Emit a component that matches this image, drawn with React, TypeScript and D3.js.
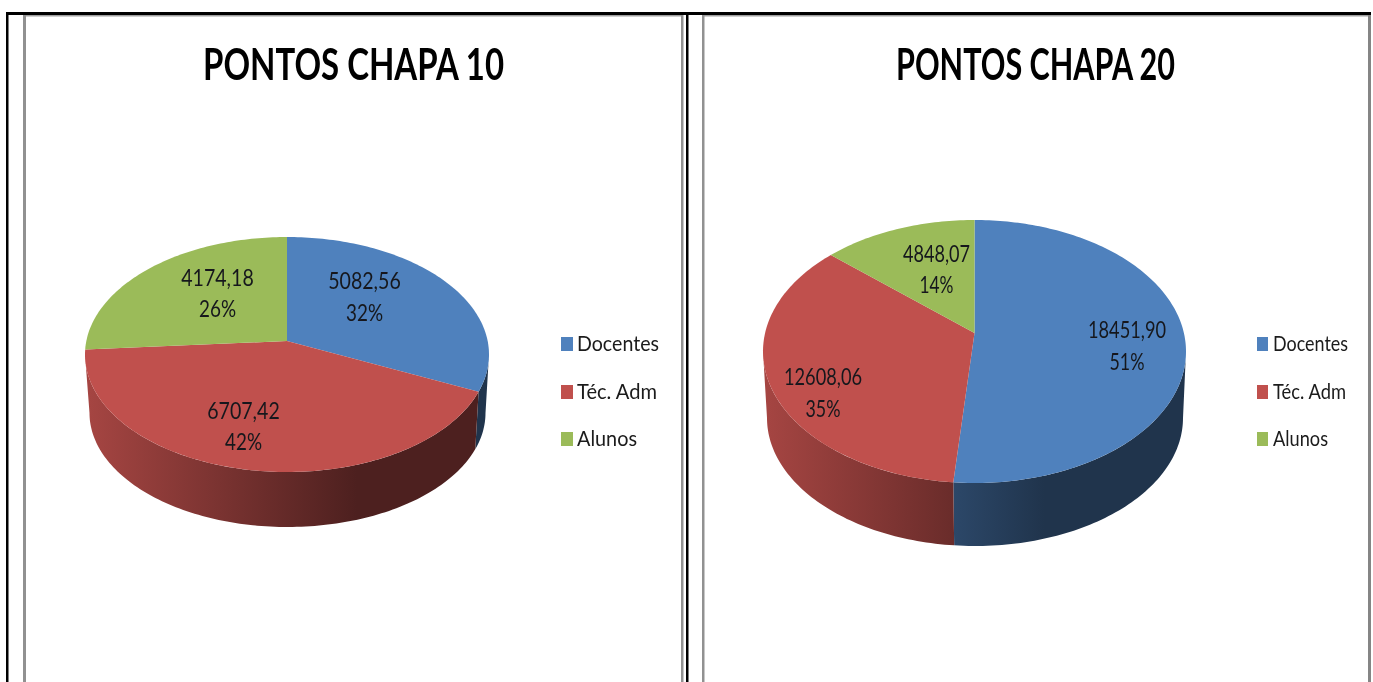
import React from "react";
import * as d3 from "d3";

const categories = ["Docentes", "Téc. Adm", "Alunos"];
const colors = ["#4F81BD", "#C0504D", "#9BBB59"];
const titleA = "PONTOS CHAPA 10";
const titleB = "PONTOS CHAPA 20";
const valuesA = [5082.56, 6707.42, 4174.18];
const valuesB = [18451.9, 12608.06, 4848.07];
const valueLabelsA = ["5082,56", "6707,42", "4174,18"];
const valueLabelsB = ["18451,90", "12608,06", "4848,07"];
const percentLabelsA = ["32%", "42%", "26%"];
const percentLabelsB = ["51%", "35%", "14%"];

const FONT = "Lato, 'Open Sans', sans-serif";

type Layout = {
  id: string; cx: number; hubY: number; top: number; bottom: number; rx: number;
  baseBottom: number; baseRx: number; baseRy: number; darkEnd: number;
  titleX: number; titleW: number;
  labels: { x: number; y1: number; y2: number; w1: number; w2: number }[];
  swatchX: number; swatchW: number; textX: number; textW: number[];
};

const layoutA: Layout = {
  id: "a", cx: 287, hubY: 341, top: 237, bottom: 472, rx: 202,
  baseBottom: 527, baseRx: 198, baseRy: 114, darkEnd: 70,
  titleX: 353.5, titleW: 301,
  labels: [
    { x: 364.5, y1: 289, y2: 321, w1: 72.5, w2: 37 },
    { x: 243.5, y1: 419, y2: 450, w1: 72.5, w2: 37 },
    { x: 217.5, y1: 286, y2: 317, w1: 72.5, w2: 37 },
  ],
  swatchX: 561, swatchW: 12, textX: 577, textW: [82, 80, 60],
};
const layoutB: Layout = {
  id: "b", cx: 974.5, hubY: 333, top: 220, bottom: 483, rx: 211.5,
  baseBottom: 546, baseRx: 208, baseRy: 128, darkEnd: 70,
  titleX: 1035.5, titleW: 279,
  labels: [
    { x: 1127, y1: 338, y2: 370, w1: 78, w2: 35 },
    { x: 823, y1: 385, y2: 417, w1: 78, w2: 35 },
    { x: 936.5, y1: 262, y2: 293, w1: 67, w2: 34 },
  ],
  swatchX: 1257, swatchW: 11, textX: 1273, textW: [75, 73, 55],
};

const legendRows = [{ y: 351 }, { y: 399 }, { y: 446 }];

// Perspective projection of a circle: v points toward the viewer.
function projector(cx: number, y0: number, k: number, rx: number, ry: number) {
  const s = Math.sqrt(1 - k * k);
  const B = rx * s;
  const A = ry * (1 - k * k);
  return (theta: number): [number, number] => {
    const u = Math.sin(theta);
    const v = -Math.cos(theta);
    const w = 1 - k * v;
    return [cx + (B * u) / w, y0 + (A * v) / w];
  };
}

function samples(a: number, b: number): number[] {
  const n = Math.max(2, Math.ceil((b - a) / 0.02));
  return d3.range(n + 1).map((i) => a + ((b - a) * i) / n);
}

const shade = (c: string, f: number) => {
  const r = d3.rgb(c);
  return d3.rgb(r.r * f, r.g * f, r.b * f).formatHex();
};

const line = d3.line<[number, number]>().x((d) => d[0]).y((d) => d[1]);

function Pie({ l, values, valueLabels, percentLabels, title }: {
  l: Layout; values: number[]; valueLabels: string[]; percentLabels: string[]; title: string;
}) {
  const up = l.hubY - l.top;
  const down = l.bottom - l.hubY;
  const k = (down - up) / (down + up);
  const ry = (l.bottom - l.top) / 2;
  const rim = projector(l.cx, l.hubY, k, l.rx, ry);
  const baseY0 = l.baseBottom - (l.baseRy * (1 - k * k)) / (1 - k);
  const base = projector(l.cx + 0.5, baseY0, k, l.baseRx, l.baseRy);
  const arcs = d3.pie<number>().sort(null)(values);
  // The rim's widest points sit where v = k, which is where the side wall starts.
  const wallMin = Math.PI / 2 + Math.asin(k);
  const wallMax = (3 * Math.PI) / 2 - Math.asin(k);

  return (
    <g>
      <defs>
        {colors.map((c, i) => (
          <linearGradient key={i} id={`wall-${l.id}-${i}`} gradientUnits="userSpaceOnUse"
            x1={l.cx - l.baseRx} x2={l.cx + l.darkEnd} y1={0} y2={0}>
            <stop offset="0" stopColor={shade(c, 0.86)} />
            <stop offset="1" stopColor={shade(c, 0.4)} />
          </linearGradient>
        ))}
      </defs>
      {arcs.map((a, i) => {
        const s = Math.max(a.startAngle, wallMin);
        const e = Math.min(a.endAngle, wallMax);
        if (e <= s) return null;
        const t = samples(s, e);
        const pts = [...t.map(rim), ...t.slice().reverse().map(base)];
        return <path key={i} d={line(pts) + "Z"} fill={`url(#wall-${l.id}-${i})`} />;
      })}
      {arcs.map((a, i) => {
        const pts: [number, number][] = [[l.cx, l.hubY], ...samples(a.startAngle, a.endAngle).map(rim)];
        return <path key={i} d={line(pts) + "Z"} fill={colors[i]} />;
      })}
      <g filter="url(#soft)">
        <text x={l.titleX} y={80} textAnchor="middle" fontFamily={FONT} fontWeight={700} fontSize={43}
          fill="#000" textLength={l.titleW} lengthAdjust="spacingAndGlyphs">{title}</text>
        {arcs.map((_, i) => {
          const p = l.labels[i];
          return (
            <g key={i} fontFamily={FONT} fontSize={23} fill="#15181c" textAnchor="middle">
              <text x={p.x} y={p.y1} textLength={p.w1} lengthAdjust="spacingAndGlyphs">{valueLabels[i]}</text>
              <text x={p.x} y={p.y2} textLength={p.w2} lengthAdjust="spacingAndGlyphs">{percentLabels[i]}</text>
            </g>
          );
        })}
        {categories.map((c, i) => (
          <text key={c} x={l.textX} y={legendRows[i].y} fontFamily={FONT} fontSize={21} fill="#1a1a1a"
            textLength={l.textW[i]} lengthAdjust="spacingAndGlyphs">{c}</text>
        ))}
      </g>
      {categories.map((c, i) => (
        <rect key={c} x={l.swatchX} y={legendRows[i].y - 14} width={l.swatchW} height={14} fill={colors[i]} />
      ))}
    </g>
  );
}

export default function App() {
  return (
    <svg width={1373} height={682} viewBox="0 0 1373 682"
      style={{ position: "fixed", left: 0, top: 0, background: "#fff", display: "block" }}>
      <defs>
        <filter id="soft" filterUnits="userSpaceOnUse" x={0} y={0} width={1373} height={682}>
          <feGaussianBlur stdDeviation={0.45} />
        </filter>
      </defs>
      <rect x={0} y={0} width={1373} height={682} fill="#fff" />
      <rect x={23} y={15} width={660} height={1.5} fill="#a0a0a0" />
      <rect x={702} y={15} width={668} height={1.5} fill="#a0a0a0" />
      <rect x={23} y={15} width={3} height={667} fill="#919191" />
      <rect x={681} y={15} width={2.5} height={667} fill="#919191" />
      <rect x={702} y={15} width={2.5} height={667} fill="#919191" />
      <rect x={1368} y={12} width={3} height={670} fill="#858585" />
      <rect x={6} y={12} width={1365} height={3} fill="#000" />
      <rect x={6} y={12} width={2.5} height={670} fill="#000" />
      <rect x={686} y={12} width={2.5} height={670} fill="#000" />
      <Pie l={layoutA} values={valuesA} valueLabels={valueLabelsA} percentLabels={percentLabelsA} title={titleA} />
      <Pie l={layoutB} values={valuesB} valueLabels={valueLabelsB} percentLabels={percentLabelsB} title={titleB} />
    </svg>
  );
}
